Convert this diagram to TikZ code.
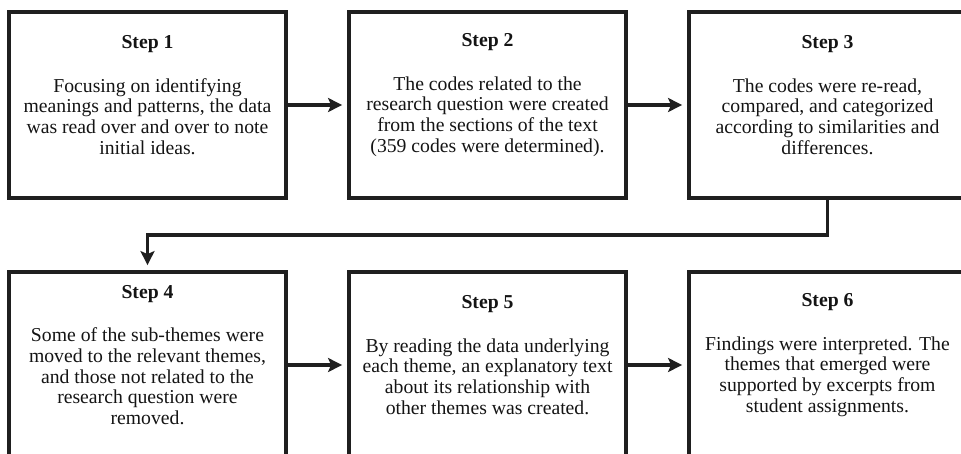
\documentclass[tikz,border=0pt]{standalone}
\usepackage{fontspec}
\setmainfont{Liberation Serif}
\usetikzlibrary{arrows.meta}
\begin{document}
\begin{tikzpicture}[x=1pt,y=-1pt,
  stepbox/.style={draw=black!88, line width=3.8pt, minimum width=277pt, minimum height=186pt, inner sep=0pt},
  txt/.style={align=center, inner sep=0pt, anchor=center, text=black!92, font=\fontsize{19.7}{20.7}\selectfont},
  conn/.style={draw=black!88, line width=3.8pt, -{Stealth[length=14pt,width=14pt,inset=3pt]}, shorten >=5pt}]
\clip (0,0) rectangle (961,453);
\node[stepbox] (b1) at (147.5,105) {};
\node[stepbox] (b2) at (487.5,105) {};
\node[stepbox] (b3) at (827.5,105) {};
\node[stepbox] (b4) at (147.5,365) {};
\node[stepbox] (b5) at (487.5,365) {};
\node[stepbox] (b6) at (827.5,365) {};
\node[txt] (t1) at ([yshift=10pt]b1.center) {\textbf{Step 1}\\[23pt]Focusing on identifying\\meanings and patterns, the data\\was read over and over to note\\initial ideas.};
\node[txt] (t2) at ([yshift=10pt]b2.center) {\textbf{Step 2}\\[23pt]The codes related to the\\research question were created\\from the sections of the text\\(359 codes were determined).};
\node[txt] (t3) at ([yshift=10pt]b3.center) {\textbf{Step 3}\\[23pt]The codes were re-read,\\compared, and categorized\\according to similarities and\\differences.};
\node[txt] (t4) at ([yshift=10pt]b4.center) {\textbf{Step 4}\\[23pt]Some of the sub-themes were\\moved to the relevant themes,\\and those not related to the\\research question were\\removed.};
\node[txt] (t5) at ([yshift=10pt]b5.center) {\textbf{Step 5}\\[23pt]By reading the data underlying\\each theme, an explanatory text\\about its relationship with\\other themes was created.};
\node[txt] (t6) at ([yshift=10pt]b6.center) {\textbf{Step 6}\\[23pt]Findings were interpreted. The\\themes that emerged were\\supported by excerpts from\\student assignments.};
\draw[conn] (b1.east) -- (b2.west);
\draw[conn] (b2.east) -- (b3.west);
\draw[conn] (b3.south) -- ++(0,35) -| (b4.north);
\draw[conn] (b4.east) -- (b5.west);
\draw[conn] (b5.east) -- (b6.west);
\end{tikzpicture}
\end{document}
